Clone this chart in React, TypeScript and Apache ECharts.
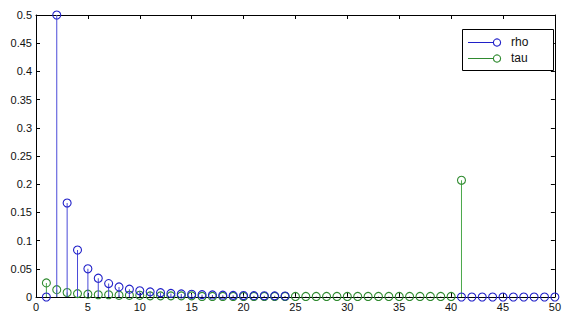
import React, { useEffect, useRef } from "react";
import * as echarts from "echarts";

const xValues: number[] = Array.from({ length: 50 }, (_, i) => i + 1);

const rho: (number | null)[] = [
  0, 0.5, 0.1667, 0.0833, 0.05, 0.0333, 0.0238, 0.0179, 0.0139, 0.0111,
  0.0091, 0.0076, 0.0064, 0.0055, 0.0048, 0.0042, 0.0037, 0.0033, 0.0029, 0.0026,
  0.0024, 0.0022, 0.002, 0.0018, null, null, null, null, null, null,
  null, null, null, null, null, null, null, null, null, null,
  0, 0, 0, 0, 0, 0, 0, 0, 0, 0,
];

const tau: (number | null)[] = [
  0.025, 0.013, 0.008, 0.006, 0.005, 0.004, 0.004, 0.003, 0.003, 0.003,
  0.002, 0.002, 0.002, 0.002, 0.002, 0.001, 0.001, 0.001, 0.001, 0.001,
  0.001, 0.001, 0.001, 0.001, 0.001, 0.001, 0.001, 0.001, 0.001, 0.001,
  0.001, 0.001, 0.001, 0.001, 0.001, 0.001, 0.001, 0.001, 0.001, 0.001,
  0.207,
];

const xTicks: number[] = [0, 5, 10, 15, 20, 25, 30, 35, 40, 45, 50];
const yTicks: number[] = [0, 0.05, 0.1, 0.15, 0.2, 0.25, 0.3, 0.35, 0.4, 0.45, 0.5];
const seriesNames: string[] = ["rho", "tau"];

const BLUE = "#2020c8";
const BLUE_LINE = "#4a4ad8";
const GREEN = "#2f8a2f";
const GREEN_LINE = "#4aa84a";

function toPairs(values: (number | null)[]) {
  return values
    .map((v, i) => (v === null ? null : [xValues[i], v]))
    .filter((d) => d !== null) as number[][];
}

function stems(name: string, values: (number | null)[], color: string, lineColor: string, z: number) {
  const data = toPairs(values);
  return [
    {
      type: "bar",
      name,
      z,
      data,
      barWidth: 1,
      barGap: "-100%",
      itemStyle: { color: lineColor },
      emphasis: { disabled: true },
    },
    {
      type: "scatter",
      name,
      z: z + 1,
      data,
      symbol: "circle",
      symbolSize: 8,
      itemStyle: { color: "rgba(0,0,0,0)", borderColor: color, borderWidth: 1.1, opacity: 1 },
      emphasis: { disabled: true },
    },
  ];
}

export default function App() {
  const ref = useRef<HTMLDivElement>(null);
  useEffect(() => {
    if (!ref.current) return;
    const chart = echarts.init(ref.current, undefined, { renderer: "svg" });
    const font = "'Liberation Sans', Arial, sans-serif";
    const axisCommon = {
      axisLine: { show: true, onZero: false, lineStyle: { color: "#000", width: 1 } },
      axisTick: { show: true, inside: true, length: 4, lineStyle: { color: "#000" } },
      splitLine: { show: false },
    };
    const lx = 462, ly = 29;
    chart.setOption({
      animation: false,
      backgroundColor: "#fff",
      grid: { left: 36, right: 4, top: 15, bottom: 23 },
      xAxis: [
        {
          type: "value", min: 0, max: 50, interval: 5, position: "bottom",
          ...axisCommon,
          axisLabel: { color: "#111", fontSize: 11, fontFamily: font, margin: 4,
            formatter: (v: number) => (xTicks.includes(v) ? String(v) : "") },
        },
        {
          type: "value", min: 0, max: 50, interval: 5, position: "top",
          ...axisCommon, axisLabel: { show: false },
        },
      ],
      yAxis: [
        {
          type: "value", min: 0, max: 0.5, interval: 0.05, position: "left",
          ...axisCommon,
          axisLabel: { color: "#111", fontSize: 11, fontFamily: font, margin: 4,
            formatter: (v: number) => {
              const t = yTicks.find((k) => Math.abs(k - v) < 1e-9);
              return t === undefined ? "" : String(parseFloat(t.toFixed(2)));
            } },
        },
        {
          type: "value", min: 0, max: 0.5, interval: 0.05, position: "right",
          ...axisCommon, axisLabel: { show: false },
        },
      ],
      series: [
        ...stems(seriesNames[1], tau, GREEN, GREEN_LINE, 2),
        ...stems(seriesNames[0], rho, BLUE, BLUE_LINE, 4),
      ],
      graphic: [
        {
          type: "rect", z: 10,
          shape: { x: lx + 0.5, y: ly + 0.5, width: 91, height: 41 },
          style: { fill: "#fff", stroke: "#000", lineWidth: 1 },
        },
        { type: "line", z: 11, shape: { x1: lx + 6, y1: ly + 13.5, x2: lx + 32, y2: ly + 13.5 }, style: { stroke: BLUE, lineWidth: 1 } },
        { type: "circle", z: 11, shape: { cx: lx + 35, cy: ly + 13.5, r: 3.6 }, style: { fill: "#fff", stroke: BLUE, lineWidth: 1.1 } },
        { type: "text", z: 11, x: lx + 49, y: ly + 13, style: { text: seriesNames[0], fill: "#111", font: `12px ${font}`, verticalAlign: "middle" } },
        { type: "line", z: 11, shape: { x1: lx + 6, y1: ly + 29.5, x2: lx + 32, y2: ly + 29.5 }, style: { stroke: GREEN, lineWidth: 1 } },
        { type: "circle", z: 11, shape: { cx: lx + 35, cy: ly + 29.5, r: 3.6 }, style: { fill: "#fff", stroke: GREEN, lineWidth: 1.1 } },
        { type: "text", z: 11, x: lx + 49, y: ly + 29, style: { text: seriesNames[1], fill: "#111", font: `12px ${font}`, verticalAlign: "middle" } },
      ],
    });
    return () => chart.dispose();
  }, []);
  return <div ref={ref} style={{ width: 564, height: 320, position: "absolute", left: 0, top: 0 }} />;
}
